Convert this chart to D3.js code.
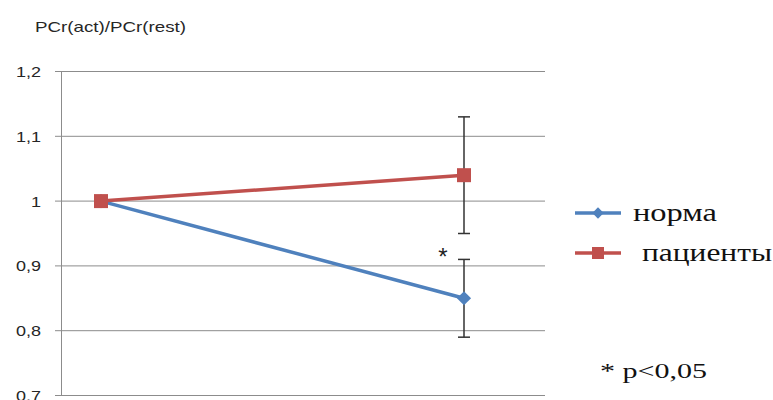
<!DOCTYPE html>
<html><head><meta charset="utf-8">
<script src="https://cdn.jsdelivr.net/npm/d3@7"></script>
<style>body{margin:0;background:#fff} .serif{font-family:'Liberation Serif','Tinos','Noto Serif','DejaVu Serif','FreeSerif','Times New Roman',Times,serif} .sans{font-family:'Liberation Sans',Arial,sans-serif}</style>
</head><body>
<svg id="c" width="773" height="400"></svg>
<script>
const categories = ["rest", "act"];
const normaValues = [1, 0.85];
const normaErrLow = [null, 0.79];
const normaErrHigh = [null, 0.91];
const patientValues = [1, 1.04];
const patientErrLow = [null, 0.95];
const patientErrHigh = [null, 1.13];
const yTicks = [0.7, 0.8, 0.9, 1.0, 1.1, 1.2];
const seriesNames = ["норма", "пациенты"];

const svg = d3.select("#c");
const blue = "#4F81BD", red = "#C0504D";
const y = d3.scaleLinear().domain([0.7, 1.2]).range([395.5, 71.5]);
const x = d3.scalePoint().domain(categories).range([101, 464]);

const fmt = d => (d === 1 ? "1" : d3.format(".1f")(d).replace(".", ","));
// grid
svg.append("g").selectAll("line").data(yTicks).join("line")
  .attr("x1", 55).attr("x2", 545).attr("y1", d => y(d)).attr("y2", d => y(d))
  .attr("stroke", "#8c8c8c").attr("stroke-width", 1);
// y axis
svg.append("line").attr("x1", 61.5).attr("x2", 61.5).attr("y1", y(1.2)).attr("y2", y(0.7))
  .attr("stroke", "#8c8c8c");
svg.append("g").selectAll("text").data(yTicks).join("text")
  .attr("class", "sans")
  .attr("transform", d => `translate(41,${y(d) + 5.5}) scale(1.2,1)`)
  .attr("text-anchor", "end").attr("font-size", 15)
  .attr("fill", "#262626").text(fmt);
svg.append("text").attr("class", "sans").attr("x", 35).attr("y", 32)
  .attr("font-size", 15).attr("textLength", 151).attr("lengthAdjust", "spacingAndGlyphs")
  .attr("fill", "#262626").text("PCr(act)/PCr(rest)");

const line = d3.line().x((d, i) => x(categories[i])).y(d => y(d));

function errBars(lo, hi) {
  categories.forEach((c, i) => {
    if (lo[i] == null) return;
    const g = svg.append("g").attr("stroke", "#333").attr("stroke-width", 1.5);
    g.append("line").attr("x1", x(c)).attr("x2", x(c)).attr("y1", y(lo[i])).attr("y2", y(hi[i]));
    g.append("line").attr("x1", x(c) - 6).attr("x2", x(c) + 6).attr("y1", y(lo[i])).attr("y2", y(lo[i]));
    g.append("line").attr("x1", x(c) - 6).attr("x2", x(c) + 6).attr("y1", y(hi[i])).attr("y2", y(hi[i]));
  });
}
errBars(normaErrLow, normaErrHigh);
errBars(patientErrLow, patientErrHigh);

svg.append("path").datum(normaValues).attr("d", line).attr("fill", "none")
  .attr("stroke", blue).attr("stroke-width", 3.5);
svg.append("g").selectAll("path").data(normaValues).join("path")
  .attr("transform", (d, i) => `translate(${x(categories[i])},${y(d)}) rotate(45)`)
  .attr("d", "M-5,-5H5V5H-5Z").attr("fill", blue);

svg.append("path").datum(patientValues).attr("d", line).attr("fill", "none")
  .attr("stroke", red).attr("stroke-width", 3.5);
svg.append("g").selectAll("rect").data(patientValues).join("rect")
  .attr("x", (d, i) => x(categories[i]) - 7).attr("y", d => y(d) - 7)
  .attr("width", 14).attr("height", 14).attr("fill", red);

// asterisk
svg.append("text").attr("class", "sans").attr("x", x("act") - 21).attr("y", y(normaErrHigh[1]) + 6)
  .attr("text-anchor", "middle")
  .attr("font-size", 24).attr("fill", "#222").text("*");

// legend
const lg = svg.append("g");
[[blue, 213, 633, 221, 84], [red, 253, 642, 261, 130]].forEach(([col, ly, tx, by, tl], k) => {
  lg.append("line").attr("x1", 575).attr("x2", 621).attr("y1", ly).attr("y2", ly)
    .attr("stroke", col).attr("stroke-width", 3.5);
  if (k === 0) lg.append("path").attr("transform", `translate(598,${ly}) rotate(45)`)
    .attr("d", "M-4,-4H4V4H-4Z").attr("fill", col);
  else lg.append("rect").attr("x", 592).attr("y", ly - 6).attr("width", 12).attr("height", 12).attr("fill", col);
  lg.append("text").attr("class", "serif").attr("x", tx).attr("y", by)
    .attr("font-size", 25).attr("textLength", tl).attr("lengthAdjust", "spacingAndGlyphs")
    .attr("fill", "#111").text(seriesNames[k]);
});
svg.append("text").attr("class", "serif").attr("x", 600).attr("y", 378)
  .attr("font-size", 21).attr("textLength", 107).attr("lengthAdjust", "spacingAndGlyphs")
  .attr("fill", "#111").text("* p<0,05");
</script>
</body></html>
